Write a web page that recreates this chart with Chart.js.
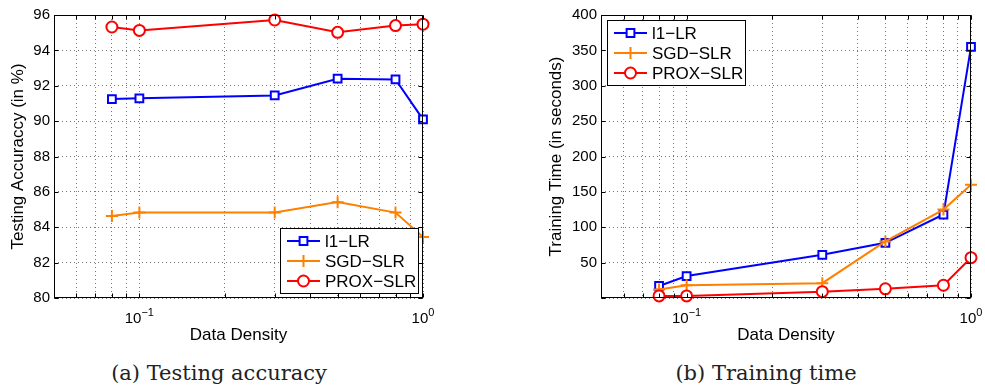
<!DOCTYPE html>
<html>
<head>
<meta charset="utf-8">
<script src="https://cdn.jsdelivr.net/npm/chart.js@4.4.0/dist/chart.umd.min.js"></script>
<style>
  body { margin: 0; background: #fff; width: 985px; height: 386px; overflow: hidden; position: relative; }
  canvas { position: absolute; top: 0; }
  #accChart { left: 0; }
  #timeChart { left: 490px; }
  .caption {
    position: absolute; top: 363px; width: 300px; text-align: center;
    font-family: 'DejaVu Serif', serif; font-size: 21px; line-height: 1; color: #222;
  }
</style>
</head>
<body>
<canvas id="accChart" width="490" height="346"></canvas>
<canvas id="timeChart" width="495" height="346"></canvas>
<div class="caption" style="left: 69px;">(a) Testing accuracy</div>
<div class="caption" style="left: 616px;">(b) Training time</div>

<script>
// ---- data ----
const densities = [0.08, 0.1, 0.3, 0.5, 0.8, 1];

const accL1 = [91.25, 91.29, 91.45, 92.40, 92.36, 90.10];
const accSgd = [84.64, 84.83, 84.83, 85.42, 84.83, 83.45];
const accProx = [95.32, 95.13, 95.72, 95.02, 95.40, 95.48];

const timeL1 = [17, 31, 61, 78, 118, 355];
const timeSgd = [12, 18, 21, 80, 125, 160];
const timeProx = [3, 3, 9, 13, 18, 57];

const seriesNames = ['l1\u2212LR', 'SGD\u2212SLR', 'PROX\u2212SLR'];

const xTicks = [0.05, 0.06, 0.07, 0.08, 0.09, 0.1, 0.2, 0.3, 0.4, 0.5, 0.6, 0.7, 0.8, 0.9, 1];
const xLabelValues = [0.1, 1];
const xLabelExps = ['\u22121', '0'];
const accTicks = [80, 82, 84, 86, 88, 90, 92, 94, 96];
const timeTicks = [0, 50, 100, 150, 200, 250, 300, 350, 400];

// ---- styles ----
const BLUE = '#0000ff';
const ORANGE = '#ff8000';
const RED = '#ff0000';
const SANS = "'Liberation Sans', Arial, sans-serif";
const styles = [
    { color: BLUE, pointStyle: 'rect', radius: 5.5, order: 3 },
    { color: ORANGE, pointStyle: 'cross', radius: 6, order: 2 },
    { color: RED, pointStyle: 'circle', radius: 5.5, order: 1 }
];

function makeDatasets(valueLists) {
    return valueLists.map((vals, k) => ({
        label: seriesNames[k],
        data: densities.map((x, i) => ({ x: x, y: vals[i] })),
        borderColor: styles[k].color,
        backgroundColor: '#fff',
        pointBorderColor: styles[k].color,
        pointBackgroundColor: '#fff',
        borderWidth: 2,
        pointBorderWidth: 2,
        pointStyle: styles[k].pointStyle,
        pointRadius: styles[k].radius,
        pointHoverRadius: styles[k].radius,
        tension: 0,
        clip: false,
        order: styles[k].order
    }));
}

function drawMarker(ctx, style, x, y, r, color) {
    ctx.save();
    ctx.strokeStyle = color;
    ctx.fillStyle = '#fff';
    ctx.lineWidth = 2;
    ctx.beginPath();
    if (style === 'rect') {
        const s = r * Math.SQRT1_2;
        ctx.rect(x - s, y - s, 2 * s, 2 * s);
        ctx.fill();
        ctx.stroke();
    } else if (style === 'circle') {
        ctx.arc(x, y, r, 0, Math.PI * 2);
        ctx.fill();
        ctx.stroke();
    } else {
        ctx.moveTo(x - r, y); ctx.lineTo(x + r, y);
        ctx.moveTo(x, y - r); ctx.lineTo(x, y + r);
        ctx.stroke();
    }
    ctx.restore();
}

// Matlab-like frame, inner ticks, 10^n labels and boxed legend
const matlabPlugin = {
    id: 'matlabFrame',
    afterDraw(chart, args, opts) {
        const ctx = chart.ctx;
        const a = chart.chartArea;
        const xs = chart.scales.x;
        const ys = chart.scales.y;
        const L = Math.round(a.left) + 0.5, R = Math.round(a.right) - 0.5;
        const T = Math.round(a.top) + 0.5, B = Math.round(a.bottom) - 0.5;

        ctx.save();
        ctx.strokeStyle = '#000';
        ctx.lineWidth = 1;
        ctx.beginPath();
        xs.ticks.forEach(t => {
            const px = Math.round(xs.getPixelForValue(t.value)) + 0.5;
            ctx.moveTo(px, B); ctx.lineTo(px, B - 4);
            ctx.moveTo(px, T); ctx.lineTo(px, T + 4);
        });
        ys.ticks.forEach(t => {
            const py = Math.round(ys.getPixelForValue(t.value)) + 0.5;
            ctx.moveTo(L, py); ctx.lineTo(L + 4, py);
            ctx.moveTo(R, py); ctx.lineTo(R - 4, py);
        });
        ctx.stroke();
        ctx.strokeRect(L, T, R - L, B - T);

        // x tick labels 10^n
        ctx.fillStyle = '#000';
        ctx.textBaseline = 'alphabetic';
        xLabelValues.forEach((v, i) => {
            const px = xs.getPixelForValue(v);
            ctx.font = '15px ' + SANS;
            const wBase = ctx.measureText('10').width;
            ctx.font = '11px ' + SANS;
            const wExp = ctx.measureText(xLabelExps[i]).width;
            const x0 = px - (wBase + wExp) / 2;
            ctx.font = '15px ' + SANS;
            ctx.textAlign = 'left';
            ctx.fillText('10', x0, a.bottom + 25);
            ctx.font = '11px ' + SANS;
            ctx.fillText(xLabelExps[i], x0 + wBase, a.bottom + 18);
        });

        // legend box
        const bw = 138, bh = 65;
        let bx, by;
        if (opts.corner === 'se') {
            bx = Math.round(a.right) - 5 - bw;
            by = Math.round(a.bottom) - 5 - bh;
        } else {
            bx = Math.round(a.left) + 6;
            by = Math.round(a.top) + 5;
        }
        ctx.fillStyle = '#fff';
        ctx.fillRect(bx, by, bw, bh);
        ctx.strokeStyle = '#000';
        ctx.lineWidth = 1;
        ctx.strokeRect(bx + 0.5, by + 0.5, bw, bh);
        chart.data.datasets.forEach((ds, k) => {
            const ry = by + 13 + k * 20;
            ctx.strokeStyle = ds.borderColor;
            ctx.lineWidth = 2;
            ctx.beginPath();
            ctx.moveTo(bx + 7, ry);
            ctx.lineTo(bx + 40, ry);
            ctx.stroke();
            drawMarker(ctx, ds.pointStyle, bx + 23.5, ry, ds.pointRadius, ds.borderColor);
            ctx.fillStyle = '#000';
            ctx.font = '17px ' + SANS;
            ctx.textAlign = 'left';
            ctx.textBaseline = 'middle';
            ctx.fillText(ds.label, bx + 45, ry + 1);
        });
        ctx.restore();
    }
};

function makeChart(canvasId, datasets, yTicks, yTitle, opt) {
    return new Chart(document.getElementById(canvasId), {
        type: 'line',
        data: { datasets: datasets },
        plugins: [matlabPlugin],
        options: {
            responsive: false,
            animation: false,
            events: [],
            layout: { padding: { top: 15, right: opt.padRight, left: 0, bottom: 0 } },
            plugins: {
                legend: { display: false },
                tooltip: { enabled: false },
                matlabFrame: { corner: opt.corner }
            },
            scales: {
                x: {
                    type: 'logarithmic',
                    min: 0.05,
                    max: 1,
                    afterBuildTicks: (axis) => { axis.ticks = xTicks.map(v => ({ value: v })); },
                    afterFit: (axis) => { axis.height = 48; },
                    ticks: { display: false, autoSkip: false },
                    grid: { color: '#777', lineWidth: 1, drawTicks: false },
                    border: { display: false, dash: [1, 3] },
                    title: {
                        display: true,
                        text: 'Data Density',
                        color: '#000',
                        font: { family: SANS, size: 17 },
                        padding: { top: 0, bottom: 0 }
                    }
                },
                y: {
                    min: yTicks[0],
                    max: yTicks[yTicks.length - 1],
                    afterBuildTicks: (axis) => { axis.ticks = yTicks.map(v => ({ value: v })); },
                    afterFit: (axis) => { axis.width = opt.yWidth; },
                    ticks: {
                        autoSkip: false,
                        padding: 4,
                        color: '#000',
                        font: { family: SANS, size: 15 },
                        callback: (v) => (v === 0 ? '' : String(v))
                    },
                    grid: { color: '#777', lineWidth: 1, drawTicks: false },
                    border: { display: false, dash: [1, 3] },
                    title: {
                        display: true,
                        text: yTitle,
                        color: '#000',
                        font: { family: SANS, size: 17 },
                        padding: { top: opt.titlePad, bottom: 0 }
                    }
                }
            }
        }
    });
}

makeChart('accChart', makeDatasets([accL1, accSgd, accProx]), accTicks,
    'Testing Accuraccy (in %)', { padRight: 67, yWidth: 54, titlePad: 8, corner: 'se' });

makeChart('timeChart', makeDatasets([timeL1, timeSgd, timeProx]), timeTicks,
    'Training Time (in seconds)', { padRight: 14, yWidth: 111, titlePad: 56, corner: 'nw' });
</script>
</body>
</html>
